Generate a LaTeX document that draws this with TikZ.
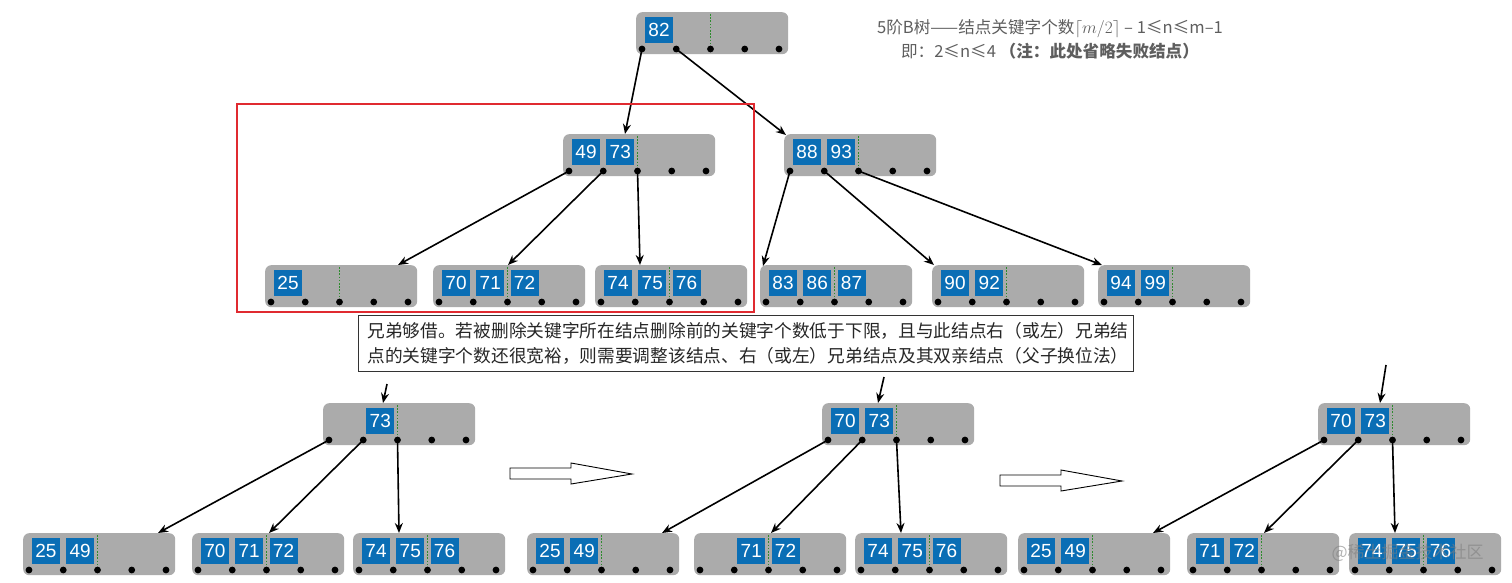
\documentclass[tikz,border=0pt]{standalone}
\usepackage{fontspec}
\setmainfont{Liberation Sans}
\newfontfamily\cjk{Noto Sans CJK SC}
\usetikzlibrary{arrows.meta,calc}
\definecolor{nodegray}{HTML}{ABABAB}
\definecolor{keyblue}{HTML}{0A6EB5}
\definecolor{dotgreen}{HTML}{2E8B2E}
\definecolor{redbox}{HTML}{E02A30}
\definecolor{titlegray}{HTML}{5E5E5E}
\tikzset{
 bbox/.style={fill=nodegray, rounded corners=6pt, minimum width=152pt, minimum height=42pt, anchor=north west, inner sep=0pt},
 keybox/.style={fill=keyblue, text=white, minimum width=28pt, minimum height=26pt, inner sep=0pt, font=\fontsize{19}{19}\selectfont},
 gdot/.style={dotgreen, line width=1.8pt, dash pattern=on 1.6pt off 1.6pt},
 link/.style={line width=1.6pt, -{Stealth[length=10pt,width=8pt]}},
 hollowarrow/.style={draw=black, line width=0.9pt, fill=white},
}
\newcommand\btnode[4]{%
  \node[bbox] (#1) at (#2,#3) {};
  \foreach \i in {0,...,4} {\coordinate (#1-d\i) at ($(#1.north west)+({6+34.25*\i},37)$);}
  \draw[gdot] ($(#1.north west)+(74.5,2)$) -- (#1-d2);
  \foreach \s/\k in {#4} {\node[keybox] at ($(#1.north west)+({23+34.25*\s},18)$) {\k};}
  \foreach \i in {0,...,4} {\fill (#1-d\i) circle (3.4);}
}
\begin{document}
\begin{tikzpicture}[x=1pt,y=-1pt]
\useasboundingbox (0,0) rectangle (1512,583);
% title
\node[align=center, text=titlegray, font=\cjk\fontsize{16.6}{24}\selectfont] (title) at (1050,39)
 {5阶B树——结点关键字个数$\lceil m/2\rceil$ – 1≤n≤m–1\\即：2≤n≤4 \textbf{（注：此处省略失败结点）}};
% top tree
\btnode{r}{636}{12}{0/82}
\btnode{a}{563}{134}{0/49,1/73}
\btnode{b}{784}{134}{0/88,1/93}
\btnode{c1}{265}{265}{0/25}
\btnode{c2}{433}{265}{0/70,1/71,2/72}
\btnode{c3}{595}{265}{0/74,1/75,2/76}
\btnode{c4}{760}{265}{0/83,1/86,2/87}
\btnode{c5}{932}{265}{0/90,1/92}
\btnode{c6}{1098}{265}{0/94,1/99}
\draw[link] (r-d0) -- ($(a.north west)+(62,0)$);
\draw[link] (r-d1) -- ($(b.north west)+(2,1)$);
\draw[link] (a-d0) -- ($(c1.north west)+(133,0)$);
\draw[link] (a-d1) -- ($(c2.north west)+(75,0)$);
\draw[link] (a-d2) -- ($(c3.north west)+(45,0)$);
\draw[link] (b-d0) -- ($(c4.north west)+(3,1)$);
\draw[link] (b-d1) -- ($(c5.north west)+(2,0)$);
\draw[link] (b-d2) -- ($(c6.north west)+(4,0)$);
\draw[redbox, line width=2pt] (237,104) rectangle (754,312);
% note
\node[draw=black!80, line width=0.8pt, anchor=north west, minimum width=775pt, minimum height=56pt,
      text width=757pt, inner xsep=9pt, align=left, text=black!85,
      font=\cjk\fontsize{17.7}{25}\selectfont] (note) at (358,315)
 {兄弟够借。若被删除关键字所在结点删除前的关键字个数低于下限，且与此结点右（或左）兄弟结\\点的关键字个数还很宽裕，则需要调整该结点、右（或左）兄弟结点及其双亲结点（父子换位法）};
% bottom trees
\btnode{p1}{323}{403}{1/73}
\btnode{p2}{822}{403}{0/70,1/73}
\btnode{p3}{1318}{403}{0/70,1/73}
\btnode{q1}{23}{533}{0/25,1/49}
\btnode{q2}{192}{533}{0/70,1/71,2/72}
\btnode{q3}{353}{533}{0/74,1/75,2/76}
\btnode{s1}{527}{533}{0/25,1/49}
\btnode{s2}{694}{533}{1/71,2/72}
\btnode{s3}{855}{533}{0/74,1/75,2/76}
\btnode{t1}{1018}{533}{0/25,1/49}
\btnode{t2}{1187}{533}{0/71,1/72}
\btnode{t3}{1349}{533}{0/74,1/75,2/76}
\coordinate (in1) at (387,384);
\coordinate (in2) at (884,377);
\coordinate (in3) at (1386,365);
\draw[link] (in1) -- ($(p1.north west)+(60,0)$);
\draw[link] (in2) -- ($(p2.north west)+(56,0)$);
\draw[link] (in3) -- ($(p3.north west)+(62,0)$);
\foreach \p/\x/\y/\z in {p1/q1/q2/q3, p2/s1/s2/s3, p3/t1/t2/t3} {
  \draw[link] (\p-d0) -- ($(\x.north west)+(135,0)$);
  \draw[link] (\p-d1) -- ($(\y.north west)+(77,0)$);
  \draw[link] (\p-d2) -- ($(\z.north west)+(46,0)$);
}
% hollow arrows
\draw[hollowarrow] (510,468) -- (571,468) -- (571,463) -- (632,474) -- (571,484) -- (571,479) -- (510,479) -- cycle;
\draw[hollowarrow] (1000,475) -- (1061,475) -- (1061,470) -- (1122,481) -- (1061,491) -- (1061,486) -- (1000,486) -- cycle;
% watermark
\node[anchor=west, text=gray, opacity=0.6, font=\cjk\fontsize{17}{17}\selectfont] (wm) at (1328,553) {@稀土掘金技术社区};
\end{tikzpicture}
\end{document}
